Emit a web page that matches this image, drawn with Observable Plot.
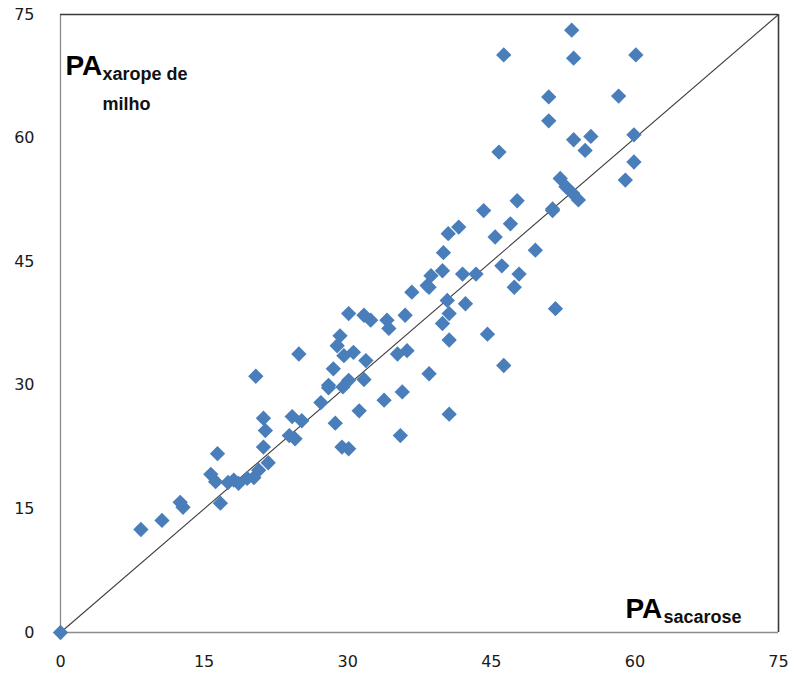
<!DOCTYPE html>
<html>
<head>
<meta charset="utf-8">
<script src="https://cdn.jsdelivr.net/npm/d3@7"></script>
<script src="https://cdn.jsdelivr.net/npm/@observablehq/plot@0.6"></script>
<style>
  html, body { margin: 0; padding: 0; background: #fff; }
</style>
</head>
<body>
<div id="chart"></div>
<script>
// PA sacarose (x) vs PA xarope de milho (y)
const paSacarose = [
  0, 8.4, 10.6, 12.5, 12.8, 16.7, 16.4, 15.7, 16.2, 17.5,
  18.6, 19.5, 20.2, 20.7, 21.2, 21.7, 21.4, 21.2, 20.4, 24.2,
  25.2, 23.9, 24.5, 27.2, 24.9, 28.0, 28.5, 28.7, 29.2, 28.9,
  29.6, 30.6, 31.9, 30.1, 31.7, 32.4, 34.1, 34.3, 36.0, 31.7,
  30.1, 29.5, 29.4, 30.1, 31.2, 33.8, 35.7, 35.2, 36.2, 35.5,
  38.5, 40.6, 44.6, 46.3, 42.3, 40.4, 40.6, 39.9, 40.6, 36.7,
  38.5, 47.7, 44.2, 51.4, 52.2, 52.8, 53.5, 54.1, 41.6, 40.5,
  47.0, 45.4, 49.6, 40.0, 38.7, 39.9, 42.0, 43.4, 46.1, 47.9,
  47.4, 38.3, 51.7, 53.4, 46.3, 53.6, 60.1, 51.0, 58.3, 51.0,
  45.8, 53.6, 55.4, 54.8, 59.9, 59.9, 59.0, 51.4, 18.1, 28.0
];
const paXarope = [
  0, 12.5, 13.6, 15.8, 15.2, 15.7, 21.7, 19.2, 18.3, 18.2,
  18.1, 18.7, 18.8, 19.7, 22.5, 20.6, 24.5, 26.0, 31.1, 26.2,
  25.7, 23.9, 23.5, 27.9, 33.8, 30.0, 32.0, 25.4, 36.0, 34.8,
  33.6, 34.0, 33.0, 38.7, 38.5, 37.9, 37.9, 36.9, 38.5, 30.7,
  30.6, 29.8, 22.5, 22.3, 26.9, 28.2, 29.2, 33.8, 34.2, 23.9,
  31.4, 26.5, 36.2, 32.4, 39.9, 40.3, 38.7, 37.5, 35.5, 41.3,
  41.9, 52.4, 51.2, 51.4, 55.1, 54.1, 53.3, 52.5, 49.2, 48.4,
  49.6, 48.0, 46.4, 46.1, 43.3, 43.9, 43.5, 43.5, 44.5, 43.5,
  41.9, 42.1, 39.3, 73.1, 70.1, 69.7, 70.1, 65.0, 65.1, 62.1,
  58.3, 59.8, 60.2, 58.5, 60.4, 57.1, 54.9, 51.2, 18.5, 29.7
];
const tickValues = [0, 15, 30, 45, 60, 75];
const diagonal = [0, 75];
const axisMax = 75;

const points = paSacarose.map((x, i) => ({x, y: paXarope[i]}));

const blue = "#4A7EBB";
const labelFont = "'Liberation Sans', Arial, sans-serif";

const chart = Plot.plot({
  width: 796,
  height: 677,
  marginLeft: 60,
  marginRight: 18,
  marginTop: 14,
  marginBottom: 45,
  style: {fontFamily: "'DejaVu Sans', Verdana, sans-serif", fontSize: "16px", color: "#1a1a1a", background: "#fff"},
  x: {domain: [0, axisMax]},
  y: {domain: [0, axisMax]},
  marks: [
    Plot.axisX({ticks: tickValues, tickSize: 0, tickPadding: 23, label: null, fontSize: 16}),
    Plot.axisY({ticks: tickValues, tickSize: 0, tickPadding: 26, label: null, fontSize: 16}),
    Plot.ruleX([0], {stroke: "#8c8c8c", strokeWidth: 1.3}),
    Plot.ruleY([0], {stroke: "#8c8c8c", strokeWidth: 1.3}),
    Plot.ruleY([axisMax], {stroke: "#3a3a3a", strokeWidth: 1.6}),
    Plot.ruleX([axisMax], {stroke: "#3a3a3a", strokeWidth: 1.6}),
    Plot.line(diagonal.map(d => ({x: d, y: d})), {x: "x", y: "y", stroke: "#404040", strokeWidth: 1.1}),
    Plot.dot(points, {x: "x", y: "y", symbol: "diamond2", r: 6.9, fill: blue, stroke: "none"}),
    Plot.text(["PA"], {frameAnchor: "top-left", textAnchor: "start", lineAnchor: "top", dx: 5, dy: 41, fontSize: 28, fontWeight: "bold", fontFamily: labelFont, fill: "#000", letterSpacing: -1}),
    Plot.text(["xarope de"], {frameAnchor: "top-left", textAnchor: "start", lineAnchor: "top", dx: 42, dy: 53, fontSize: 18, fontWeight: "bold", fontFamily: labelFont, fill: "#111", letterSpacing: -0.4}),
    Plot.text(["milho"], {frameAnchor: "top-left", textAnchor: "start", lineAnchor: "top", dx: 42, dy: 83, fontSize: 18, fontWeight: "bold", fontFamily: labelFont, fill: "#111"}),
    Plot.text(["PA"], {frameAnchor: "top-left", textAnchor: "start", lineAnchor: "top", dx: 565, dy: 584, fontSize: 28, fontWeight: "bold", fontFamily: labelFont, fill: "#000", letterSpacing: -1}),
    Plot.text(["sacarose"], {frameAnchor: "top-left", textAnchor: "start", lineAnchor: "top", dx: 603, dy: 596, fontSize: 18, fontWeight: "bold", fontFamily: labelFont, fill: "#111"})
  ]
});
document.getElementById("chart").appendChild(chart);
</script>
</body>
</html>
